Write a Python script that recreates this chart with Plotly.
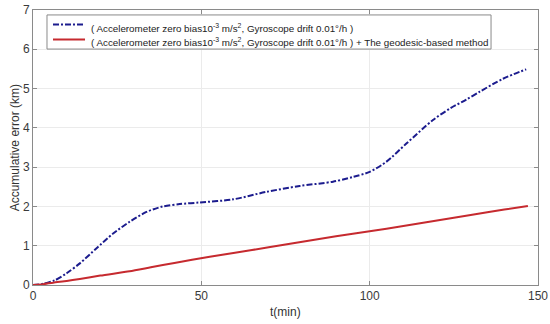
import plotly.graph_objects as go

t_blue = [0, 3, 6.5, 10, 13.9, 18.8, 23.8, 28.7, 33.7, 38.6, 43.6, 49.5, 59.4, 69.3,
          79.2, 89.1, 95, 100, 105, 110.9, 118.8, 124, 128.7, 132.7, 139.6, 146.5]
e_blue = [0, 0.03, 0.12, 0.3, 0.55, 0.93, 1.31, 1.61, 1.86, 2.00, 2.06, 2.10, 2.18, 2.37,
          2.52, 2.63, 2.75, 2.88, 3.14, 3.60, 4.20, 4.50, 4.72, 4.92, 5.25, 5.49]

t_red = [0, 3, 6, 10, 13.9, 20, 28.7, 35, 42, 52.5, 60, 70, 80, 90, 100, 110, 120, 130, 140, 147]
e_red = [0, 0.02, 0.06, 0.1, 0.15, 0.24, 0.35, 0.45, 0.56, 0.72, 0.82, 0.96, 1.10, 1.24, 1.37,
         1.50, 1.64, 1.78, 1.92, 2.01]

x_ticks = [0, 50, 100, 150]
y_ticks = [0, 1, 2, 3, 4, 5, 6, 7]

name_blue = "( Accelerometer zero bias10<sup>-3</sup> m/s<sup>2</sup>, Gyroscope drift 0.01°/h )"
name_red = name_blue + " + The geodesic-based method"

BLUE = "#1c1c8e"
RED = "#c62a2f"
BLUE_DASH = "6px,2px,2px,2px"
FONT = "Liberation Sans, Arial"

fig = go.Figure()
fig.add_trace(go.Scatter(x=t_blue, y=e_blue, mode="lines", name=name_blue,
                         line=dict(color=BLUE, width=2, dash=BLUE_DASH,
                                   shape="spline", smoothing=0.8)))
fig.add_trace(go.Scatter(x=t_red, y=e_red, mode="lines", name=name_red,
                         line=dict(color=RED, width=2, shape="spline", smoothing=0.6)))

axis_common = dict(showline=True, mirror="ticks", linecolor="#8a8a8a", linewidth=1,
                   ticks="inside", ticklen=4, tickcolor="#8a8a8a",
                   showgrid=True, gridcolor="#ebebeb", gridwidth=1, zeroline=False,
                   automargin=False,
                   tickfont=dict(family=FONT, size=12, color="#3a3a3a"))

fig.update_xaxes(range=[0, 150], tickvals=x_ticks, **axis_common)
fig.update_yaxes(range=[0, 7], tickvals=y_ticks, **axis_common)

# axis titles
fig.add_annotation(text="t(min)", xref="paper", yref="paper", x=0.5, y=-0.097,
                   xanchor="center", yanchor="middle", showarrow=False,
                   font=dict(family=FONT, size=12, color="#333333"))
fig.add_annotation(text="Accumulative error (km)", xref="paper", yref="paper", x=-0.036, y=0.5,
                   xanchor="center", yanchor="middle", textangle=-90, showarrow=False,
                   font=dict(family=FONT, size=12, color="#333333"))

# legend (drawn as box + line samples + text)
fig.add_shape(type="rect", xref="paper", yref="paper", x0=0.0277, x1=0.907, y0=0.858, y1=0.982,
              line=dict(color="#8a8a8a", width=1), fillcolor="white", layer="above")
fig.add_shape(type="line", xref="paper", yref="paper", x0=0.0396, x1=0.1030, y0=0.947, y1=0.947,
              line=dict(color=BLUE, width=2, dash=BLUE_DASH), layer="above")
fig.add_shape(type="line", xref="paper", yref="paper", x0=0.0396, x1=0.1030, y0=0.893, y1=0.893,
              line=dict(color=RED, width=2), layer="above")
fig.add_annotation(text=name_blue, xref="paper", yref="paper", x=0.110, y=0.936,
                   xanchor="left", yanchor="middle", showarrow=False,
                   font=dict(family=FONT, size=9.8, color="#222222"))
fig.add_annotation(text=name_red, xref="paper", yref="paper", x=0.110, y=0.882,
                   xanchor="left", yanchor="middle", showarrow=False,
                   font=dict(family=FONT, size=9.8, color="#222222"))

fig.update_layout(
    width=550, height=324,
    margin=dict(l=33, r=12, t=10, b=39),
    plot_bgcolor="white", paper_bgcolor="white",
    showlegend=False,
)

fig.write_html("out.html", config={"displayModeBar": False})

with open("out.html", "r", encoding="utf-8") as f:
    html = f.read()
html = html.replace("<head>", "<head><style>html,body{margin:0;padding:0;overflow:hidden;}</style>", 1)
with open("out.html", "w", encoding="utf-8") as f:
    f.write(html)
